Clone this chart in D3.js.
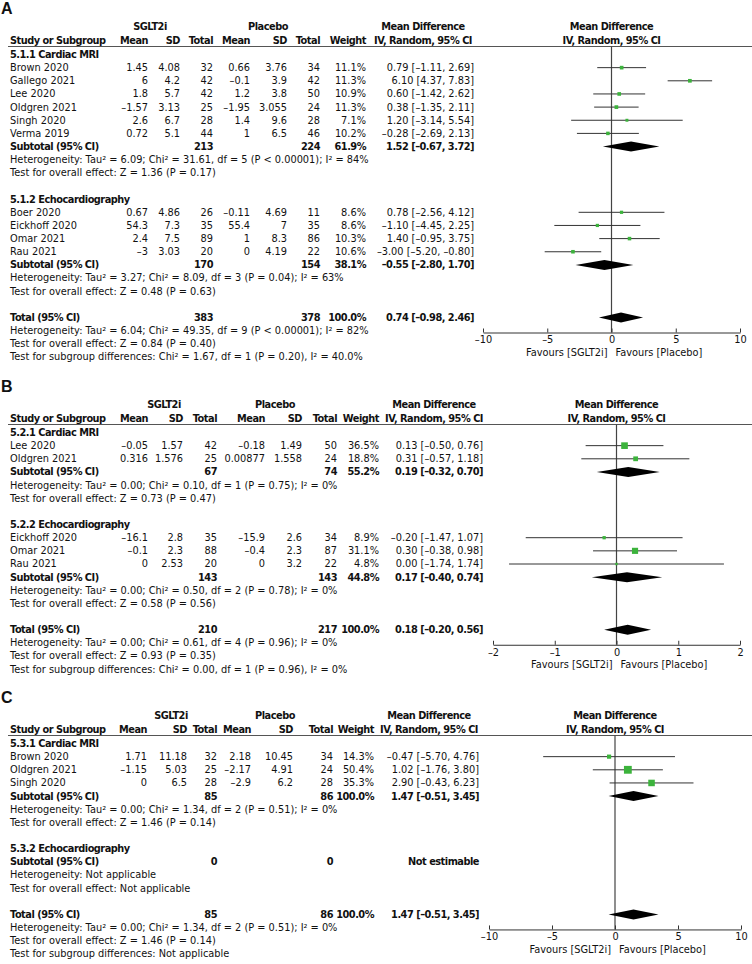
<!DOCTYPE html>
<html>
<head>
<meta charset="utf-8">
<script src="https://cdn.jsdelivr.net/npm/d3@7"></script>
<style>
body { margin: 0; background: #fff; }
svg text { font-family: "DejaVu Sans", sans-serif; font-size: 9.8px; fill: #111; }
svg text.b { font-weight: bold; letter-spacing: -0.5px; }
svg text.lab { font-family: "Liberation Sans", Arial, sans-serif; font-size: 16px; font-weight: bold; letter-spacing: 0; }
</style>
</head>
<body>
<svg id="chart" width="752" height="964"></svg>
<script>
// ---- panel A ----
var aGroups = ["5.1.1 Cardiac MRI", "5.1.2 Echocardiography"];
var aStudy = ["Brown 2020", "Gallego 2021", "Lee 2020", "Oldgren 2021", "Singh 2020", "Verma 2019",
              "Boer 2020", "Eickhoff 2020", "Omar 2021", "Rau 2021"];
var aGroupOf = [0, 0, 0, 0, 0, 0, 1, 1, 1, 1];
var aMean1 = [1.45, 6, 1.8, -1.57, 2.6, 0.72, 0.67, 54.3, 2.4, -3];
var aSD1 = [4.08, 4.2, 5.7, 3.13, 6.7, 5.1, 4.86, 7.3, 7.5, 3.03];
var aN1 = [32, 42, 42, 25, 28, 44, 26, 35, 89, 20];
var aMean2 = [0.66, -0.1, 1.2, -1.95, 1.4, 1, -0.11, 55.4, 1, 0];
var aSD2 = [3.76, 3.9, 3.8, 3.055, 9.6, 6.5, 4.69, 7, 8.3, 4.19];
var aN2 = [34, 42, 50, 24, 28, 46, 11, 35, 86, 22];
var aWeight = [11.1, 11.3, 10.9, 11.3, 7.1, 10.2, 8.6, 8.6, 10.3, 10.6];
var aMD = [0.79, 6.10, 0.60, 0.38, 1.20, -0.28, 0.78, -1.10, 1.40, -3.00];
var aLo = [-1.11, 4.37, -1.42, -1.35, -3.14, -2.69, -2.56, -4.45, -0.95, -5.20];
var aHi = [2.69, 7.83, 2.62, 2.11, 5.54, 2.13, 4.12, 2.25, 3.75, -0.80];
var aSubN1 = [213, 170], aSubN2 = [224, 154], aSubWeight = [61.9, 38.1];
var aSubMD = [1.52, -0.55], aSubLo = [-0.67, -2.80], aSubHi = [3.72, 1.70];
var aSubHet = ["Heterogeneity: Tau² = 6.09; Chi² = 31.61, df = 5 (P < 0.00001); I² = 84%",
               "Heterogeneity: Tau² = 3.27; Chi² = 8.09, df = 3 (P = 0.04); I² = 63%"];
var aSubTest = ["Test for overall effect: Z = 1.36 (P = 0.17)", "Test for overall effect: Z = 0.48 (P = 0.63)"];
var aTotN = [383, 378], aTotCI = [0.74, -0.98, 2.46];
var aTotText = ["Heterogeneity: Tau² = 6.04; Chi² = 49.35, df = 9 (P < 0.00001); I² = 82%",
                "Test for overall effect: Z = 0.84 (P = 0.40)",
                "Test for subgroup differences: Chi² = 1.67, df = 1 (P = 0.20), I² = 40.0%"];
var aTicks = [-10, -5, 0, 5, 10];

// ---- panel B ----
var bGroups = ["5.2.1 Cardiac MRI", "5.2.2 Echocardiography"];
var bStudy = ["Lee 2020", "Oldgren 2021", "Eickhoff 2020", "Omar 2021", "Rau 2021"];
var bGroupOf = [0, 0, 1, 1, 1];
var bMean1 = [-0.05, 0.316, -16.1, -0.1, 0];
var bSD1 = [1.57, 1.576, 2.8, 2.3, 2.53];
var bN1 = [42, 25, 35, 88, 20];
var bMean2 = [-0.18, 0.00877, -15.9, -0.4, 0];
var bSD2 = [1.49, 1.558, 2.6, 2.3, 3.2];
var bN2 = [50, 24, 34, 87, 22];
var bWeight = [36.5, 18.8, 8.9, 31.1, 4.8];
var bMD = [0.13, 0.31, -0.20, 0.30, 0.00];
var bLo = [-0.50, -0.57, -1.47, -0.38, -1.74];
var bHi = [0.76, 1.18, 1.07, 0.98, 1.74];
var bSubN1 = [67, 143], bSubN2 = [74, 143], bSubWeight = [55.2, 44.8];
var bSubMD = [0.19, 0.17], bSubLo = [-0.32, -0.40], bSubHi = [0.70, 0.74];
var bSubHet = ["Heterogeneity: Tau² = 0.00; Chi² = 0.10, df = 1 (P = 0.75); I² = 0%",
               "Heterogeneity: Tau² = 0.00; Chi² = 0.50, df = 2 (P = 0.78); I² = 0%"];
var bSubTest = ["Test for overall effect: Z = 0.73 (P = 0.47)", "Test for overall effect: Z = 0.58 (P = 0.56)"];
var bTotN = [210, 217], bTotCI = [0.18, -0.20, 0.56];
var bTotText = ["Heterogeneity: Tau² = 0.00; Chi² = 0.61, df = 4 (P = 0.96); I² = 0%",
                "Test for overall effect: Z = 0.93 (P = 0.35)",
                "Test for subgroup differences: Chi² = 0.00, df = 1 (P = 0.96), I² = 0%"];
var bTicks = [-2, -1, 0, 1, 2];

// ---- panel C ----
var cGroups = ["5.3.1 Cardiac MRI", "5.3.2 Echocardiography"];
var cStudy = ["Brown 2020", "Oldgren 2021", "Singh 2020"];
var cGroupOf = [0, 0, 0];
var cMean1 = [1.71, -1.15, 0];
var cSD1 = [11.18, 5.03, 6.5];
var cN1 = [32, 25, 28];
var cMean2 = [2.18, -2.17, -2.9];
var cSD2 = [10.45, 4.91, 6.2];
var cN2 = [34, 24, 28];
var cWeight = [14.3, 50.4, 35.3];
var cMD = [-0.47, 1.02, 2.90];
var cLo = [-5.70, -1.76, -0.43];
var cHi = [4.76, 3.80, 6.23];
var cSubN1 = [85, 0], cSubN2 = [86, 0], cSubWeight = [100.0, null];
var cSubMD = [1.47, null], cSubLo = [-0.51, null], cSubHi = [3.45, null];
var cSubHet = ["Heterogeneity: Tau² = 0.00; Chi² = 1.34, df = 2 (P = 0.51); I² = 0%",
               "Heterogeneity: Not applicable"];
var cSubTest = ["Test for overall effect: Z = 1.46 (P = 0.14)", "Test for overall effect: Not applicable"];
var cTotN = [85, 86], cTotCI = [1.47, -0.51, 3.45];
var cTotText = ["Heterogeneity: Tau² = 0.00; Chi² = 1.34, df = 2 (P = 0.51); I² = 0%",
                "Test for overall effect: Z = 1.46 (P = 0.14)",
                "Test for subgroup differences: Not applicable"];
var cTicks = [-10, -5, 0, 5, 10];

var PITCH = 13.15;
var GREEN = "#3cb33c";
var DASH = "\u2013";
var f2 = d3.format(".2f"), fmt1 = d3.format(".1f");
function num(v) { return String(v).replace("-", DASH); }
function fmt2(v) { return f2(v).replace("\u2212", DASH); }
function ciText(m, l, h) { return fmt2(m) + " [" + fmt2(l) + ", " + fmt2(h) + "]"; }

var svg = d3.select("#chart");

function txt(g, x, y, s, anchor, bold) {
    return g.append("text")
        .attr("x", x).attr("y", y).attr("dy", "0.35em")
        .attr("text-anchor", anchor || "start")
        .classed("b", !!bold)
        .text(s);
}

function drawPanel(P) {
    var g = svg.append("g");
    var col = P.cols;
    var x = d3.scaleLinear().domain([P.ticks[0], P.ticks[P.ticks.length - 1]]).range(P.plot);

    g.append("text").attr("class", "lab").attr("x", 1).attr("y", P.top).attr("dy", "0.35em").text(P.label);

    var h1 = P.top + 18.5, h2 = P.top + 32.5, lineY = P.top + 38.5;
    txt(g, P.grpX[0], h1, "SGLT2i", "middle", true);
    txt(g, P.grpX[1], h1, "Placebo", "middle", true);
    txt(g, P.mdHead, h1, "Mean Difference", "middle", true);
    txt(g, x(0), h1, "Mean Difference", "middle", true);
    txt(g, 10, h2, "Study or Subgroup", "start", true);
    ["Mean", "SD", "Total", "Mean", "SD", "Total", "Weight"].forEach(function (s, i) {
        txt(g, col[i], h2, s, "end", true);
    });
    txt(g, P.mdHead, h2, "IV, Random, 95% CI", "middle", true);
    txt(g, x(0), h2, "IV, Random, 95% CI", "middle", true);
    g.append("line").attr("x1", 8).attr("x2", 752).attr("y1", lineY).attr("y2", lineY)
        .attr("stroke", "#555").attr("stroke-width", 1);

    var marks = g.append("g");
    function diamond(y, m, l, h) {
        marks.append("path")
            .attr("d", "M" + x(l) + "," + y + "L" + x(m) + "," + (y - 5) + "L" + x(h) + "," + y + "L" + x(m) + "," + (y + 5) + "Z")
            .attr("fill", "#000");
    }

    var cy = lineY + 8;
    P.groups.forEach(function (gname, gi) {
        txt(g, 10, cy, gname, "start", true);
        var y = cy + PITCH;
        P.study.forEach(function (s, i) {
            if (P.groupOf[i] !== gi) return;
            txt(g, 10, y, s);
            [num(P.mean1[i]), num(P.sd1[i]), P.n1[i], num(P.mean2[i]), num(P.sd2[i]), P.n2[i], fmt1(P.weight[i]) + "%"]
                .forEach(function (v, k) { txt(g, col[k], y, v, "end"); });
            txt(g, P.mdRight, y, ciText(P.md[i], P.lo[i], P.hi[i]), "end");
            marks.append("line").attr("x1", x(P.lo[i])).attr("x2", x(P.hi[i]))
                .attr("y1", y).attr("y2", y).attr("stroke", "#333").attr("stroke-width", 1);
            var side = 1.1 * Math.sqrt(P.weight[i]);
            marks.append("rect").attr("x", x(P.md[i]) - side / 2).attr("y", y - side / 2)
                .attr("width", side).attr("height", side).attr("fill", GREEN);
            y += PITCH;
        });
        txt(g, 10, y, "Subtotal (95% CI)", "start", true);
        txt(g, col[2], y, P.subN1[gi], "end", true);
        txt(g, col[5], y, P.subN2[gi], "end", true);
        if (P.subMD[gi] !== null) {
            txt(g, col[6], y, fmt1(P.subWeight[gi]) + "%", "end", true);
            txt(g, P.mdRight, y, ciText(P.subMD[gi], P.subLo[gi], P.subHi[gi]), "end", true);
            diamond(y, P.subMD[gi], P.subLo[gi], P.subHi[gi]);
        } else {
            txt(g, P.mdRight, y, "Not estimable", "end", true);
        }
        txt(g, 10, y + PITCH, P.subHet[gi]);
        txt(g, 10, y + 2 * PITCH, P.subTest[gi]);
        cy = y + 4 * PITCH;
    });

    var ty = cy;
    txt(g, 10, ty, "Total (95% CI)", "start", true);
    txt(g, col[2], ty, P.totN[0], "end", true);
    txt(g, col[5], ty, P.totN[1], "end", true);
    txt(g, col[6], ty, "100.0%", "end", true);
    txt(g, P.mdRight, ty, ciText(P.totCI[0], P.totCI[1], P.totCI[2]), "end", true);
    P.totText.forEach(function (s, k) { txt(g, 10, ty + (k + 1) * PITCH, s); });
    diamond(ty, P.totCI[0], P.totCI[1], P.totCI[2]);

    var axisY = ty + 15;
    marks.insert("line", ":first-child")
        .attr("x1", x(0)).attr("x2", x(0)).attr("y1", lineY).attr("y2", axisY)
        .attr("stroke", "#444").attr("stroke-width", 1.2);

    var ax = g.append("g").attr("transform", "translate(0," + axisY + ")")
        .call(d3.axisBottom(x).tickValues(P.ticks).tickSizeInner(-4).tickSizeOuter(0)
            .tickPadding(4).tickFormat(function (d) { return num(d); }));
    ax.select(".domain").attr("stroke", "#333");
    ax.selectAll(".tick line").attr("stroke", "#333");
    txt(g, x(0) - 4, axisY + 20, "Favours [SGLT2i]", "end");
    txt(g, x(0) + 4, axisY + 20, "Favours [Placebo]", "start");
}

drawPanel({
    label: "A", top: 8, groups: aGroups, study: aStudy, groupOf: aGroupOf,
    mean1: aMean1, sd1: aSD1, n1: aN1, mean2: aMean2, sd2: aSD2, n2: aN2,
    weight: aWeight, md: aMD, lo: aLo, hi: aHi,
    subN1: aSubN1, subN2: aSubN2, subWeight: aSubWeight, subMD: aSubMD, subLo: aSubLo, subHi: aSubHi,
    subHet: aSubHet, subTest: aSubTest, totN: aTotN, totCI: aTotCI, totText: aTotText, ticks: aTicks,
    cols: [148, 180, 213, 250, 287, 320, 366], grpX: [150, 268], mdHead: 423, mdRight: 474, plot: [483, 740]
});
drawPanel({
    label: "B", top: 386, groups: bGroups, study: bStudy, groupOf: bGroupOf,
    mean1: bMean1, sd1: bSD1, n1: bN1, mean2: bMean2, sd2: bSD2, n2: bN2,
    weight: bWeight, md: bMD, lo: bLo, hi: bHi,
    subN1: bSubN1, subN2: bSubN2, subWeight: bSubWeight, subMD: bSubMD, subLo: bSubLo, subHi: bSubHi,
    subHet: bSubHet, subTest: bSubTest, totN: bTotN, totCI: bTotCI, totText: bTotText, ticks: bTicks,
    cols: [148, 183, 217, 265, 302, 337, 379], grpX: [164, 275], mdHead: 434, mdRight: 483, plot: [493, 740]
});
drawPanel({
    label: "C", top: 697, groups: cGroups, study: cStudy, groupOf: cGroupOf,
    mean1: cMean1, sd1: cSD1, n1: cN1, mean2: cMean2, sd2: cSD2, n2: cN2,
    weight: cWeight, md: cMD, lo: cLo, hi: cHi,
    subN1: cSubN1, subN2: cSubN2, subWeight: cSubWeight, subMD: cSubMD, subLo: cSubLo, subHi: cSubHi,
    subHet: cSubHet, subTest: cSubTest, totN: cTotN, totCI: cTotCI, totText: cTotText, ticks: cTicks,
    cols: [147, 187, 217, 251, 293, 333, 374], grpX: [171, 275], mdHead: 429, mdRight: 479, plot: [489, 741]
});
</script>
</body>
</html>
